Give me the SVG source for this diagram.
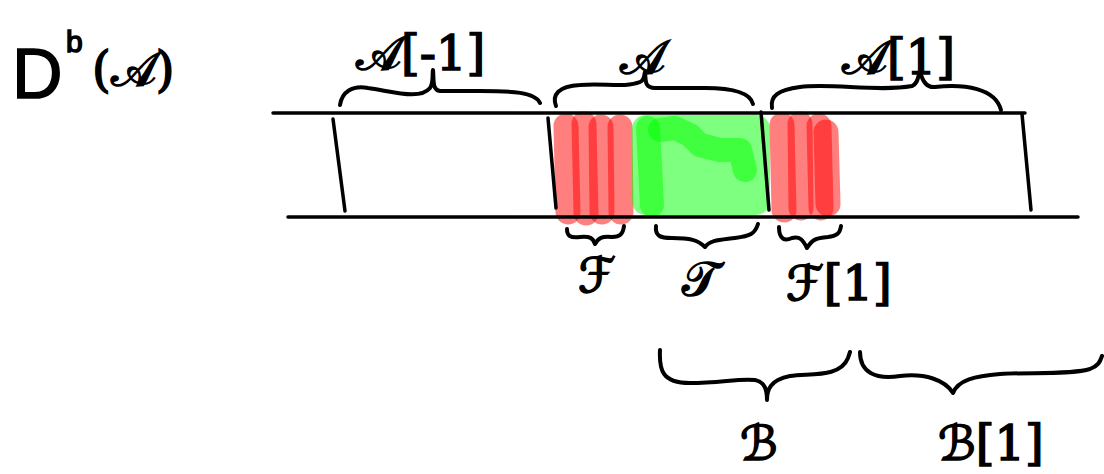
<svg xmlns="http://www.w3.org/2000/svg" width="1104" height="474" viewBox="0 0 1104 474">
<style>
.ln{fill:none;stroke:#000;stroke-width:3.5;stroke-linecap:round;stroke-linejoin:round}
.br{fill:none;stroke:#000;stroke-width:4;stroke-linecap:round;stroke-linejoin:round}
.red{fill:none;stroke:#ff0000;stroke-opacity:0.5;stroke-width:25;stroke-linecap:round;stroke-linejoin:round}
.grn{fill:none;stroke:#00ff00;stroke-opacity:0.5;stroke-width:24;stroke-linecap:round;stroke-linejoin:round}
.t{font-family:"DejaVu Serif","DejaVu Sans","Liberation Serif",serif;font-size:48px;fill:#000;stroke:#000;stroke-width:1.6}
.s{font-family:"Liberation Sans",sans-serif;fill:#000;stroke:#000;stroke-width:1.5}
</style>
<rect width="1104" height="474" fill="#fff"/>
<g id="title"><text class="s" x="12" y="98" font-size="70">D</text><text class="s" x="66" y="52" font-size="30">b</text><text class="t" x="92" y="86" font-size="42">(𝒜)</text></g>
<g id="highlights">
<path class="red" d="M566 126 L568 212"/>
<path class="red" d="M584 124 L586 213"/>
<path class="red" d="M601 127 L602 212"/>
<path class="red" d="M620 127 L621 212"/>
<path class="red" d="M782 125 L784 210"/>
<path class="red" d="M800 124 L801 208"/>
<path class="red" d="M819 126 L821 208"/>
<path class="red" d="M826 132 L828 204"/>
<rect x="632" y="115" width="138" height="100" rx="14" fill="#00ff00" fill-opacity="0.5"/>
<path class="grn" d="M648 128 L652 205"/>
<path class="grn" d="M660 130 L675 128 L690 135 L700 145 L720 150 L740 150 L745 170"/>
</g>
<g id="strip">
<path class="ln" d="M273 113 L1025 113"/>
<path class="ln" d="M288 217 L1078 217"/>
<path class="ln" d="M333 119 L345 211"/>
<path class="ln" d="M548 118 L556 208"/>
<path class="ln" d="M761 112 L769 210"/>
<path class="ln" d="M1022 114 L1031 210"/>
</g>
<g id="connectors">
<path class="br" d="M340 105 C342 92 352 85 368 88 C395 92 420 100 430 88 C434 82 432 72 433 70 C434 80 432 90 440 91 L480 91 C512 91 535 92 540 103"/>
<path class="br" d="M556 106 C552 95 558 86 580 85 C605 83 625 88 640 82 C645 80 644 74 645 72 C646 80 644 88 655 88 L705 88 C730 88 750 92 753 104"/>
<path class="br" d="M772 108 C770 96 778 90 800 87 C830 83 880 92 912 86 C918 84 918 76 920 71 C922 80 926 88 935 87 C965 84 995 88 1001 110"/>
<path class="br" d="M567 229 C567 236 570 238 580 237 C590 236 593 238 595 244 C598 238 602 236 612 237 C620 237 623 234 624 226"/>
<path class="br" d="M656 226 C655 236 660 238 672 238 C690 238 698 240 705 247 C710 240 720 240 735 238 C750 236 755 234 758 224"/>
<path class="br" d="M779 227 C779 240 785 241 792 238 C800 236 803 240 807 248 C812 240 815 238 828 237 C836 236 840 234 841 226"/>
<path class="br" d="M660 350 C659 370 662 383 690 383 C720 383 740 378 755 380 C765 382 767 390 767 400 C767 390 770 380 790 376 C810 373 840 378 848 358 L850 352"/>
<path class="br" d="M860 352 C860 372 875 380 900 376 C925 373 945 380 953 393 C958 380 975 376 1000 374 C1030 372 1070 375 1090 369 C1098 366 1100 362 1102 356"/>
</g>
<g id="labels">
<text class="t" x="356" y="70">𝒜[-1]</text>
<text class="t" x="620" y="74">𝒜</text>
<text class="t" x="842" y="74">𝒜[1]</text>
<text class="t" x="578" y="292">ℱ</text>
<text class="t" x="682" y="296">𝒯</text>
<text class="t" x="786" y="300">ℱ[1]</text>
<text class="t" x="740" y="460" font-size="52">ℬ</text>
<text class="t" x="938" y="460" font-size="52">ℬ[1]</text>
</g>
</svg>
